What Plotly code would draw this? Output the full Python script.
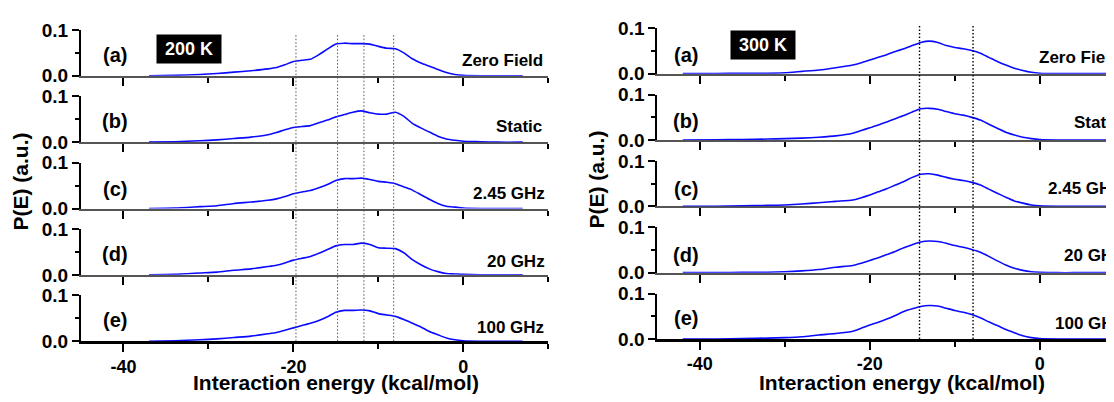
import plotly.graph_objects as go

W, H = 1114, 402
PAGE_OFFSET = 8  # the page body margin shifts the figure by 8 px

# ---------------- data ----------------
E_200 = [-37, -34, -31, -29, -27, -25, -23, -22, -21, -20, -19, -18, -17, -16, -15,
         -14, -13, -12, -11, -10, -9, -8, -7, -6, -5, -4, -3, -2, -1, 0, 2, 4, 7]
P_200_zero = [0.0, 0.001, 0.003, 0.005, 0.008, 0.011, 0.015, 0.018, 0.024, 0.031, 0.034, 0.036, 0.046, 0.058, 0.069,
              0.071, 0.070, 0.070, 0.069, 0.064, 0.060, 0.059, 0.050, 0.037, 0.028, 0.021, 0.014, 0.007, 0.003, 0.001, 0.0, 0.0, 0.0]
P_200_static = [0.0, 0.001, 0.003, 0.005, 0.008, 0.011, 0.016, 0.021, 0.027, 0.032, 0.034, 0.036, 0.042, 0.048, 0.055,
                0.060, 0.065, 0.068, 0.064, 0.061, 0.061, 0.065, 0.056, 0.041, 0.031, 0.022, 0.013, 0.007, 0.004, 0.002, 0.001, 0.0, 0.0]
P_200_245 = [0.0, 0.001, 0.004, 0.006, 0.011, 0.014, 0.018, 0.021, 0.026, 0.032, 0.036, 0.039, 0.045, 0.052, 0.061,
             0.065, 0.065, 0.066, 0.063, 0.059, 0.057, 0.054, 0.047, 0.040, 0.030, 0.020, 0.011, 0.005, 0.003, 0.001, 0.0, 0.0, 0.0]
P_200_20 = [0.0, 0.001, 0.004, 0.006, 0.010, 0.013, 0.018, 0.021, 0.026, 0.032, 0.036, 0.040, 0.047, 0.055, 0.063,
            0.066, 0.066, 0.069, 0.066, 0.059, 0.058, 0.057, 0.048, 0.033, 0.022, 0.013, 0.007, 0.003, 0.002, 0.001, 0.0, 0.0, 0.0]
P_200_100 = [0.0, 0.001, 0.003, 0.005, 0.008, 0.011, 0.016, 0.019, 0.024, 0.029, 0.034, 0.039, 0.045, 0.053, 0.063,
             0.067, 0.067, 0.068, 0.066, 0.060, 0.057, 0.054, 0.047, 0.039, 0.031, 0.021, 0.014, 0.007, 0.003, 0.001, 0.0, 0.0, 0.0]

E_300 = [-42, -38, -35, -32, -30, -28, -26, -24, -22, -21, -20, -19, -18, -17, -16, -15, -14,
         -13, -12, -11, -10, -9, -8, -7, -6, -5, -4, -3, -2, -1, 0, 2, 4, 7, 10]
P_300_zero = [0.0, 0.0, 0.001, 0.001, 0.002, 0.005, 0.008, 0.013, 0.019, 0.024, 0.030, 0.036, 0.042, 0.049, 0.055, 0.062, 0.069,
              0.072, 0.069, 0.062, 0.058, 0.055, 0.051, 0.045, 0.036, 0.027, 0.019, 0.012, 0.007, 0.003, 0.001, 0.0, 0.0, 0.0, 0.0]
P_300_static = [0.0, 0.0005, 0.001, 0.002, 0.003, 0.004, 0.006, 0.009, 0.015, 0.021, 0.027, 0.033, 0.040, 0.047, 0.054, 0.062, 0.069,
                0.070, 0.068, 0.063, 0.058, 0.055, 0.050, 0.044, 0.035, 0.026, 0.017, 0.011, 0.006, 0.003, 0.001, 0.0, 0.0, 0.0, 0.0]
P_300_245 = [0.0, 0.0, 0.001, 0.002, 0.003, 0.005, 0.008, 0.011, 0.014, 0.019, 0.025, 0.032, 0.039, 0.047, 0.055, 0.064, 0.071,
             0.072, 0.069, 0.064, 0.060, 0.057, 0.053, 0.047, 0.038, 0.029, 0.020, 0.012, 0.007, 0.003, 0.001, 0.0, 0.0, 0.0, 0.0]
P_300_20 = [0.0, 0.0, 0.001, 0.001, 0.002, 0.004, 0.007, 0.012, 0.016, 0.021, 0.027, 0.033, 0.040, 0.047, 0.055, 0.062, 0.068,
            0.070, 0.069, 0.065, 0.060, 0.056, 0.051, 0.045, 0.036, 0.026, 0.017, 0.010, 0.005, 0.002, 0.001, 0.0, 0.0, 0.0, 0.0]
P_300_100 = [0.0, 0.0, 0.001, 0.002, 0.003, 0.005, 0.009, 0.012, 0.017, 0.024, 0.031, 0.037, 0.044, 0.052, 0.061, 0.067, 0.072,
             0.074, 0.073, 0.068, 0.063, 0.059, 0.054, 0.047, 0.038, 0.030, 0.021, 0.014, 0.007, 0.003, 0.001, 0.0, 0.0, 0.0, 0.0]

row_letters = ["(a)", "(b)", "(c)", "(d)", "(e)"]
conditions = ["Zero Field", "Static", "2.45 GHz", "20 GHz", "100 GHz"]
temperatures = ["200 K", "300 K"]
guides_200 = [-19.7, -14.8, -11.7, -8.2]
guides_300 = [-14.15, -7.85]
x_tick_vals = [-40, -20, 0]
x_tick_text = ["-40", "-20", "0"]
y_tick_vals = [0.0, 0.1]
y_tick_text = ["0.0", "0.1"]
x_title = "Interaction energy (kcal/mol)"
y_title = "P(E) (a.u.)"

# right panel: the page shows it only up to its right edge
RIGHT_END_PX = W + PAGE_OFFSET
panels = [
    dict(E=E_200, P=[P_200_zero, P_200_static, P_200_245, P_200_20, P_200_100],
         xpx=(81, 548.3), xr=[-45, 10], top0=20.5, bot0=69.0,
         letter_x=114.7, letter_y=[46.7, 116.7, 188.3, 256.7, 326.7],
         cond_x=[461.7, 495.7, 472.7, 486.7, 476.7], cond_y=[52.7, 122.7, 193.3, 265.0, 334.3],
         box=(189, 41), ytitle=(20, 180.5), xtitle=(335.7, 393),
         guides=guides_200, gtop=26, gcolor="#555555", gwidth=1),
    dict(E=E_300, P=[P_300_zero, P_300_static, P_300_245, P_300_20, P_300_100],
         xpx=(657.3, RIGHT_END_PX), xr=[-45, -45 + (RIGHT_END_PX - 657.3) / 8.5], top0=19.0, bot0=66.7,
         letter_x=686, letter_y=[46.7, 116.7, 188.0, 258.0, 325.0],
         cond_x=[1039.3, 1074.3, 1048.3, 1064.0, 1055.0], cond_y=[49.3, 118.3, 188.3, 258.3, 330.0],
         box=(763, 37), ytitle=(597, 178.5), xtitle=(902, 393),
         guides=guides_300, gtop=16, gcolor="#000000", gwidth=1.4),
]

FONT = "Liberation Sans, Arial, sans-serif"


def fx(p):
    return (p - PAGE_OFFSET) / W


def fy(p):
    return 1 - (p - PAGE_OFFSET) / H


fig = go.Figure()
layout = dict(
    width=W, height=H, margin=dict(l=0, r=0, t=0, b=0),
    paper_bgcolor="white", plot_bgcolor="white", showlegend=False,
    annotations=[], shapes=[],
)

n = 0
for pi, pan in enumerate(panels):
    for r in range(5):
        n += 1
        sfx = "" if n == 1 else str(n)
        fig.add_trace(go.Scatter(
            x=pan["E"], y=pan["P"][r], mode="lines",
            line=dict(color="#0a0aff", width=1.6, shape="spline", smoothing=0.6),
            xaxis="x" + sfx, yaxis="y" + sfx, hoverinfo="skip",
        ))
        top = pan["top0"] + 70 * r
        bot = pan["bot0"] + 70 * r
        last = (r == 4)
        layout["xaxis" + sfx] = dict(
            domain=[fx(pan["xpx"][0]), min(1.0, fx(pan["xpx"][1]))], anchor="y" + sfx,
            range=pan["xr"], showline=True,
            linecolor="#000000" if last else "#555555", linewidth=2.5 if last else 2,
            ticks="outside", tickmode="array", tickvals=x_tick_vals, ticktext=x_tick_text,
            ticklen=8, tickwidth=2, tickcolor="#000000",
            minor=dict(ticks="outside", tickmode="linear", dtick=10, tick0=-40,
                       ticklen=5, tickwidth=2, tickcolor="#000000"),
            showticklabels=last, showgrid=False, zeroline=False, layer="below traces",
            tickfont=dict(family=FONT, size=18, color="#000000", weight="bold"),
            ticklabelstandoff=-1,
        )
        layout["yaxis" + sfx] = dict(
            domain=[fy(bot), fy(top)], anchor="x" + sfx, range=[0, 0.1],
            showline=True, linecolor="#000000", linewidth=2,
            ticks="outside", tickmode="array", tickvals=y_tick_vals, ticktext=y_tick_text,
            ticklen=7, tickwidth=2, tickcolor="#000000",
            minor=dict(ticks="outside", tickmode="linear", dtick=0.05, tick0=0,
                       ticklen=4, tickwidth=2, tickcolor="#000000"),
            showgrid=False, zeroline=False, layer="below traces",
            tickfont=dict(family=FONT, size=19, color="#000000", weight="bold"),
        )
        layout["annotations"].append(dict(
            x=fx(pan["letter_x"]), y=fy(pan["letter_y"][r]), xref="paper", yref="paper",
            text=row_letters[r], showarrow=False, xanchor="center", yanchor="middle",
            font=dict(family=FONT, size=20, color="#000000", weight="bold")))
        layout["annotations"].append(dict(
            x=fx(pan["cond_x"][r]), y=fy(pan["cond_y"][r]), xref="paper", yref="paper",
            text=conditions[r], showarrow=False, xanchor="left", yanchor="middle",
            borderpad=0, xshift=-1,
            font=dict(family=FONT, size=17, color="#000000", weight="bold")))
    bottom_axis = "x" + str(n)
    for g in pan["guides"]:
        layout["shapes"].append(dict(
            type="line", xref=bottom_axis, yref="paper", x0=g, x1=g,
            y0=fy(pan["bot0"] + 280), y1=fy(pan["gtop"]),
            line=dict(color=pan["gcolor"], width=pan["gwidth"], dash="1.5px,2px"), layer="above"))
    layout["annotations"].append(dict(
        x=fx(pan["box"][0]), y=fy(pan["box"][1]), xref="paper", yref="paper",
        text=temperatures[pi], showarrow=False, xanchor="center", yanchor="middle",
        bgcolor="#000000", width=62, height=26, borderpad=1,
        font=dict(family=FONT, size=18, color="#ffffff", weight="bold")))
    layout["annotations"].append(dict(
        x=fx(pan["ytitle"][0]), y=fy(pan["ytitle"][1]), xref="paper", yref="paper",
        text=y_title, showarrow=False, textangle=-90, xanchor="center", yanchor="middle",
        font=dict(family=FONT, size=21, color="#000000", weight="bold")))
    layout["annotations"].append(dict(
        x=fx(pan["xtitle"][0]), y=fy(pan["xtitle"][1]), xref="paper", yref="paper",
        text=x_title, showarrow=False, xanchor="center", yanchor="middle",
        font=dict(family=FONT, size=21, color="#000000", weight="bold")))

fig.update_layout(**layout)
fig.write_html("out.html")
